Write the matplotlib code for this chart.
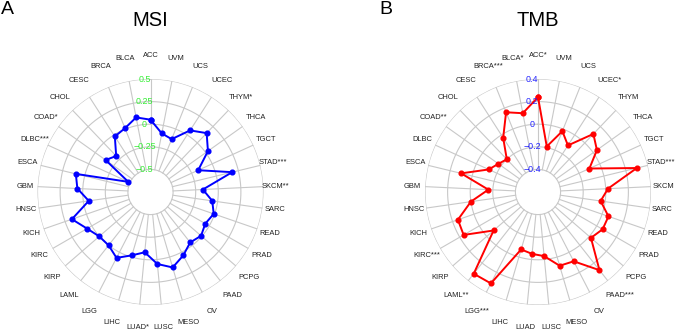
import numpy as np
import matplotlib
matplotlib.use("Agg")
import matplotlib.pyplot as plt
from matplotlib.transforms import offset_copy

plt.rcParams['font.family'] = ['Liberation Sans', 'DejaVu Sans']

categories = ["ACC", "BLCA", "BRCA", "CESC", "CHOL", "COAD", "DLBC", "ESCA", "GBM",
              "HNSC", "KICH", "KIRC", "KIRP", "LAML", "LGG", "LIHC", "LUAD", "LUSC",
              "MESO", "OV", "PAAD", "PCPG", "PRAD", "READ", "SARC", "SKCM", "STAD",
              "TGCT", "THCA", "THYM", "UCEC", "UCS", "UVM"]

msi_labels = ["ACC", "BLCA", "BRCA", "CESC", "CHOL", "COAD*", "DLBC***", "ESCA", "GBM",
              "HNSC", "KICH", "KIRC", "KIRP", "LAML", "LGG", "LIHC", "LUAD*", "LUSC",
              "MESO", "OV", "PAAD", "PCPG", "PRAD", "READ", "SARC", "SKCM**", "STAD***",
              "TGCT", "THCA", "THYM*", "UCEC", "UCS", "UVM"]
msi_values = [0.05, 0.09, 0.01, -0.02, -0.20, -0.14, -0.48, 0.10, 0.06,
              -0.06, 0.17, 0.06, 0.00, 0.00, 0.07, -0.02, -0.08, 0.05,
              0.12, 0.04, -0.04, -0.01, -0.05, -0.01, -0.06, -0.17, 0.18,
              -0.17, 0.03, 0.15, 0.06, -0.12, -0.09]
msi_ticks = [-0.5, -0.25, 0, 0.25, 0.5]
msi_ticklabels = ["\u22120.5", "\u22120.25", "0", "0.25", "0.5"]

tmb_labels = ["ACC*", "BLCA*", "BRCA***", "CESC", "CHOL", "COAD**", "DLBC", "ESCA", "GBM",
              "HNSC", "KICH", "KIRC***", "KIRP", "LAML**", "LGG***", "LIHC", "LUAD", "LUSC",
              "MESO", "OV", "PAAD***", "PCPG", "PRAD", "READ", "SARC", "SKCM", "STAD***",
              "TGCT", "THCA", "THYM", "UCEC*", "UCS", "UVM"]
tmb_values = [0.24, 0.11, 0.16, -0.03, -0.20, -0.17, -0.12, 0.10, -0.16,
              0.00, 0.15, 0.16, -0.08, 0.32, 0.31, -0.07, -0.05, -0.03,
              0.08, 0.09, 0.28, 0.02, 0.06, 0.06, -0.04, 0.02, 0.30,
              -0.10, 0.04, 0.11, -0.11, -0.02, -0.19]
tmb_ticks = [-0.4, -0.2, 0, 0.2, 0.4]
tmb_ticklabels = ["\u22120.4", "\u22120.2", "0", "0.2", "0.4"]

W, H = 676, 333
fig = plt.figure(figsize=(W / 100, H / 100), dpi=100)

R_PX = 113.0
GRID = "#c8c8c8"


def radar(cx, cy, labels, values, ticks, ticklabels, line_color, tick_color, title, letter, letter_x):
    ax = fig.add_axes([(cx - R_PX) / W, (H - cy - R_PX) / H, 2 * R_PX / W, 2 * R_PX / H],
                      projection="polar")
    step = ticks[1] - ticks[0]
    rmin = ticks[0] - step
    rmax = ticks[-1]
    ax.set_theta_zero_location("N")
    ax.set_theta_direction(1)
    ax.set_ylim(rmin, rmax)
    ax.set_axis_off()
    n = len(labels)
    theta = np.arange(n) * 2 * np.pi / n
    tt = np.linspace(0, 2 * np.pi, 400)
    for lev in ticks:
        ax.plot(tt, np.full_like(tt, lev), color=GRID, lw=0.8, zorder=1)
    for t in theta:
        ax.plot([t, t], [ticks[0], ticks[-1]], color=GRID, lw=0.8, zorder=1)
    th = np.append(theta, theta[0])
    vv = np.append(values, values[0])
    ax.plot(th, vv, color=line_color, lw=1.4, marker="o", markersize=3.4, zorder=3,
            clip_on=False)
    tr = offset_copy(ax.transData, fig=fig, x=-6, y=0, units="dots")
    for lev, lab in zip(ticks, ticklabels):
        ax.text(0, lev, lab, transform=tr, ha="center", va="center", fontsize=6.4,
                color=tick_color, zorder=4)
    a, b = 125.5, 136.5
    for t, lab in zip(theta, labels):
        s, c = np.sin(t), np.cos(t)
        rp = 1.0 / np.sqrt((s / a) ** 2 + (c / b) ** 2)
        r = rmin + rp / R_PX * (rmax - rmin)
        ax.text(t, r, lab, ha="center", va="center", fontsize=5.4, color="#222222",
                clip_on=False)
    fig.text(cx / W, 1 - 20 / H, title, ha="center", va="center", fontsize=14.5)
    fig.text(letter_x / W, 1 - 9 / H, letter, ha="left", va="center", fontsize=14)


radar(150.5, 192, msi_labels, msi_values, msi_ticks, msi_ticklabels,
      "#0000ff", "#33ee33", "MSI", "A", 1)
radar(538, 192, tmb_labels, tmb_values, tmb_ticks, tmb_ticklabels,
      "#ff0000", "#2222ff", "TMB", "B", 379)

fig.savefig("out.png", dpi=100)
